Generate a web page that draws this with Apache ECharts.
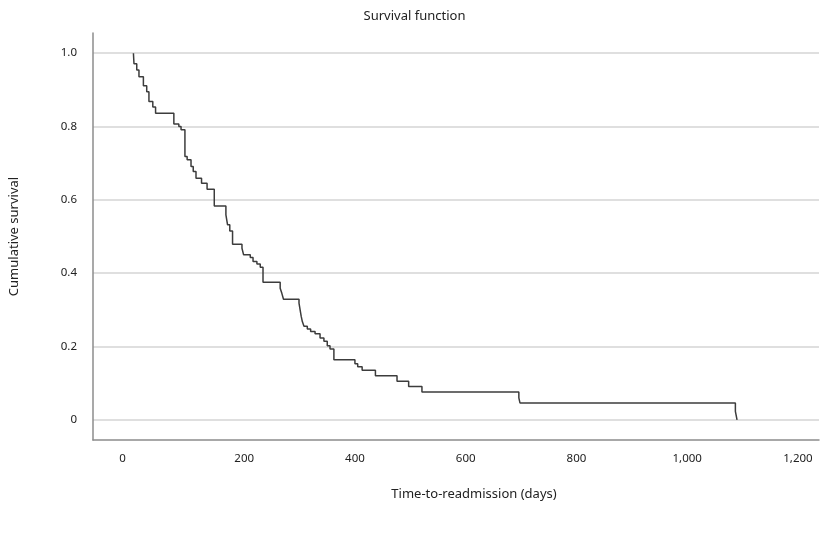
<!DOCTYPE html>
<html>
<head>
<meta charset="utf-8">
<script src="https://cdn.jsdelivr.net/npm/echarts@6/dist/echarts.min.js"></script>
<style>
html,body{margin:0;padding:0;background:#fff;}
#chart{width:829px;height:534px;}
</style>
</head>
<body>
<div id="chart"></div>
<script>
// Kaplan-Meier survival estimates
const days = [0, 1, 6, 10, 18, 24, 28, 35, 40, 73, 82, 86, 93, 97, 104, 108, 113, 123, 133, 146,
  167, 170, 174, 179, 196, 199, 211, 216, 223, 229, 234, 265, 268, 271,
  299, 301, 303, 305, 308, 314, 320, 328, 337, 344, 350, 355, 362,
  400, 405, 413, 437, 476, 497, 521, 696, 698, 1087, 1090];
const survival = [1.0, 0.971, 0.954, 0.936, 0.911, 0.895, 0.868, 0.853, 0.836, 0.807, 0.800, 0.791, 0.718, 0.709, 0.691, 0.677, 0.659, 0.645, 0.629, 0.583,
  0.559, 0.532, 0.515, 0.479, 0.468, 0.450, 0.443, 0.432, 0.425, 0.416, 0.375, 0.359, 0.345, 0.329,
  0.318, 0.300, 0.282, 0.268, 0.255, 0.248, 0.241, 0.235, 0.223, 0.214, 0.202, 0.193, 0.164,
  0.153, 0.145, 0.135, 0.120, 0.105, 0.091, 0.076, 0.060, 0.046, 0.023, 0.0];
const xTicks = [0, 200, 400, 600, 800, 1000, 1200];
const yTicks = [0, 0.2, 0.4, 0.6, 0.8, 1.0];

const points = days.map((d, i) => [d, survival[i]]);
const font = 'Noto Sans';

const chart = echarts.init(document.getElementById('chart'), null, {renderer: 'canvas'});
chart.setOption({
  animation: false,
  backgroundColor: '#ffffff',
  title: {
    text: 'Survival function',
    left: 'center',
    top: 5,
    textStyle: {fontFamily: font, fontSize: 13, fontWeight: 'normal', color: '#222'}
  },
  grid: {left: 93, right: 10, top: 33, bottom: 94, containLabel: false},
  xAxis: {
    type: 'value',
    min: -73,
    max: 1238,
    name: 'Time-to-readmission (days)',
    nameLocation: 'middle',
    nameGap: 48,
    nameTextStyle: {fontFamily: font, fontSize: 13, color: '#222', padding: [0, 0, 0, 36]},
    axisLine: {show: true, onZero: false, lineStyle: {color: '#8c8c8c', width: 1.5}},
    axisTick: {show: false, customValues: xTicks},
    axisLabel: {
      customValues: xTicks,
      margin: 13,
      fontFamily: font, fontSize: 11.5, color: '#222',
      formatter: v => (v === 0 ? '{z|0}' : v.toLocaleString('en-US')),
      rich: {z: {fontFamily: font, fontSize: 11.5, color: '#222', padding: [0, 22, 0, 0]}}
    },
    splitLine: {show: false}
  },
  yAxis: {
    type: 'value',
    min: -0.055,
    max: 1.055,
    name: 'Cumulative survival',
    nameLocation: 'middle',
    nameGap: 72,
    nameRotate: 90,
    nameTextStyle: {fontFamily: font, fontSize: 13, color: '#222'},
    axisLine: {show: true, onZero: false, lineStyle: {color: '#8c8c8c', width: 1.5}},
    axisTick: {show: false, customValues: yTicks},
    axisLabel: {
      customValues: yTicks,
      margin: 16,
      fontFamily: font, fontSize: 11.5, color: '#222',
      formatter: v => (Math.abs(v) < 1e-9 ? '0' : v.toFixed(1))
    },
    splitLine: {show: true, lineStyle: {color: '#d4d4d4', width: 1.5}}
  },
  series: [{
    type: 'line',
    step: 'end',
    data: points,
    showSymbol: false,
    symbol: 'none',
    lineStyle: {color: '#3c3c3c', width: 1.5},
    z: 3
  }]
});
</script>
</body>
</html>
